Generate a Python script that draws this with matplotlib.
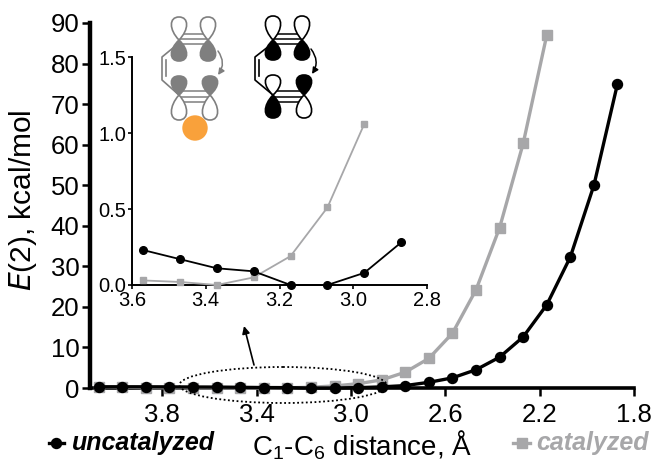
import matplotlib
matplotlib.use('Agg')
import matplotlib.pyplot as plt
from matplotlib.path import Path
from matplotlib.patches import PathPatch, Circle, Ellipse, FancyArrowPatch

plt.rcParams['font.family'] = ['Liberation Sans', 'DejaVu Sans']
plt.rcParams['mathtext.default'] = 'regular'

# Data
dist_unc = [4.07, 3.97, 3.87, 3.77, 3.67, 3.57, 3.47, 3.37, 3.27, 3.17, 3.07, 2.97, 2.87,
            2.77, 2.67, 2.57, 2.47, 2.37, 2.27, 2.17, 2.07, 1.97, 1.87]
e_unc = [0.3, 0.3, 0.3, 0.28, 0.25, 0.23, 0.17, 0.11, 0.09, 0.0, 0.0, 0.08, 0.28,
         0.6, 1.4, 2.5, 4.5, 7.6, 12.6, 20.5, 32.3, 50.0, 75.0]
dist_cat = [4.07, 3.97, 3.87, 3.77, 3.67, 3.57, 3.47, 3.37, 3.27, 3.17, 3.07, 2.97, 2.87,
            2.77, 2.67, 2.57, 2.47, 2.37, 2.27, 2.17]
e_cat = [0.3, 0.2, 0.1, 0.06, 0.04, 0.03, 0.02, 0.0, 0.05, 0.19, 0.51, 1.06, 2.0,
         3.9, 7.3, 13.5, 24.2, 39.5, 60.3, 87.0]

inset_dist_unc = dist_unc[5:13]
inset_e_unc = e_unc[5:13]
inset_dist_cat = dist_cat[5:12]
inset_e_cat = e_cat[5:12]

main_xticks = [3.8, 3.4, 3.0, 2.6, 2.2, 1.8]
main_yticks = [0, 10, 20, 30, 40, 50, 60, 70, 80, 90]
inset_xticks = [3.6, 3.4, 3.2, 3.0, 2.8]
inset_yticks = [0.0, 0.5, 1.0, 1.5]

W, H = 654, 461
BLACK = '#000000'
GRAY = '#a7a7a9'
DARK = '#7f7f7f'


def axes_from_px(fig, left, right, top, bottom):
    return fig.add_axes([left / W, 1 - bottom / H, (right - left) / W, (bottom - top) / H])


def style_axes(ax, lw, length, tick_w, size, pad):
    ax.spines['top'].set_visible(False)
    ax.spines['right'].set_visible(False)
    ax.spines['left'].set_linewidth(lw)
    ax.spines['bottom'].set_linewidth(lw)
    ax.tick_params(width=tick_w, length=length, labelsize=size, pad=pad)
    ax.patch.set_alpha(0)


fig = plt.figure(figsize=(W / 100, H / 100), dpi=100)

# main plot
ax = axes_from_px(fig, 90, 634, 23, 388)
ax.plot(dist_cat, e_cat, '-s', color=GRAY, lw=2.4, ms=7, clip_on=False, zorder=3)
ax.plot(dist_unc, e_unc, '-o', color=BLACK, lw=2.4, ms=7.2, clip_on=False, zorder=4)
ax.set_xlim(4.107, 1.8)
ax.set_ylim(0, 90)
ax.set_xticks(main_xticks)
ax.set_xticklabels(['%.1f' % v for v in main_xticks])
ax.set_yticks(main_yticks)
style_axes(ax, 2.6, 6, 1.8, 18.5, 1.5)
ax.spines['left'].set_linewidth(3.2)
ax.tick_params(axis='x', pad=5)

# inset
ins = axes_from_px(fig, 132, 427, 57, 285)
ins.plot(inset_dist_cat, inset_e_cat, '-s', color=GRAY, lw=1.3, ms=5, clip_on=False, zorder=3)
ins.plot(inset_dist_unc, inset_e_unc, '-o', color=BLACK, lw=1.3, ms=5.5, clip_on=False, zorder=4)
ins.set_xlim(3.6, 2.8)
ins.set_ylim(0, 1.5)
ins.set_xticks(inset_xticks)
ins.set_xticklabels(['%.1f' % v for v in inset_xticks])
ins.set_yticks(inset_yticks)
ins.set_yticklabels(['%.1f' % v for v in inset_yticks])
style_axes(ins, 1.4, 3, 1.2, 14.5, 1)

# overlay in pixel coordinates for the annotations
over = fig.add_axes([0, 0, 1, 1])
over.set_xlim(0, W)
over.set_ylim(H, 0)
over.axis('off')
over.patch.set_alpha(0)

over.add_patch(Ellipse((283, 385), 207, 36, fill=False, ec=BLACK, lw=1.3, ls=(0, (1, 1.4)), zorder=6))
over.add_patch(FancyArrowPatch((254, 365), (244, 326), arrowstyle='-|>', mutation_scale=11, color=BLACK,
                               lw=1.2, shrinkA=0, shrinkB=0))

over.text(72, 443, 'uncatalyzed', fontsize=18, fontweight='bold', fontstyle='italic', va='center', ha='left')
over.plot([56], [443], 'o', color=BLACK, ms=7.2)
over.plot([49, 64], [443, 443], '-', color=BLACK, lw=2.4)
over.text(536, 443, 'catalyzed', fontsize=18, fontweight='bold', fontstyle='italic', va='center', ha='left', color=GRAY)
over.plot([522], [443], 's', color=GRAY, ms=7)
over.plot([513, 530], [443, 443], '-', color=GRAY, lw=2.4)
over.text(362, 455, 'C$_1$-C$_6$ distance, Å', fontsize=20, ha='center', va='baseline')
over.text(23, 200, '$\\mathit{E}$(2), kcal/mol', fontsize=21.5, rotation=90, ha='center', va='center')


def lobe(x, y, tip, half, face, edge):
    # teardrop from the node (x, y) to the tip height
    verts = [(x, y), (x - half * 1.45, y + (tip - y) * 0.45), (x - half * 1.45, tip), (x, tip),
             (x + half * 1.45, tip), (x + half * 1.45, y + (tip - y) * 0.45), (x, y)]
    codes = [Path.MOVETO] + [Path.CURVE4] * 6
    over.add_patch(PathPatch(Path(verts, codes), fc=face, ec=edge, lw=1.2, zorder=5))


def molecule(x1, x2, xleft, color, lobes):
    for y in (34, 39, 44, 91, 97, 102):
        over.plot([x1, x2], [y, y], color=color, lw=1.1, zorder=4)
    over.plot([x1, xleft, xleft, x1], [43, 57, 80, 95], color=color, lw=1.2, zorder=4)
    over.plot([xleft + 4, xleft + 4], [60, 76], color=color, lw=1.2, zorder=4)
    for x, y, tip, filled in lobes:
        lobe(x, y, tip, 7, color if filled else 'white', color)


gray_x1, gray_x2 = 179, 208
molecule(gray_x1, gray_x2, 162, DARK, [
    (gray_x1, 40, 17, False), (gray_x2, 40, 17, False),
    (gray_x1, 40, 61, True), (gray_x2, 40, 61, True),
    (gray_x1, 95, 76, True), (gray_x2 + 2, 95, 76, True),
    (gray_x1, 95, 120, False), (gray_x2 + 2, 95, 120, False),
])
blk_x1, blk_x2 = 273, 302
molecule(blk_x1, blk_x2, 255, BLACK, [
    (blk_x1, 40, 16, False), (blk_x2, 40, 16, False),
    (blk_x1, 40, 60, True), (blk_x2, 40, 60, True),
    (blk_x1, 95, 75, False), (blk_x2 + 2, 95, 75, True),
    (blk_x1, 95, 118, True), (blk_x2 + 2, 95, 118, False),
])
over.add_patch(Circle((195, 128), 12.7, fc='#f9a13b', ec='none', zorder=6))
over.add_patch(FancyArrowPatch((218, 51), (218, 75), connectionstyle='arc3,rad=-0.35', arrowstyle='-|>',
                               mutation_scale=9, color=DARK, lw=1.1, shrinkA=0, shrinkB=0))
over.add_patch(FancyArrowPatch((311, 49), (312, 74), connectionstyle='arc3,rad=-0.35', arrowstyle='-|>',
                               mutation_scale=9, color=BLACK, lw=1.1, shrinkA=0, shrinkB=0))

fig.savefig('out.png', dpi=100)
